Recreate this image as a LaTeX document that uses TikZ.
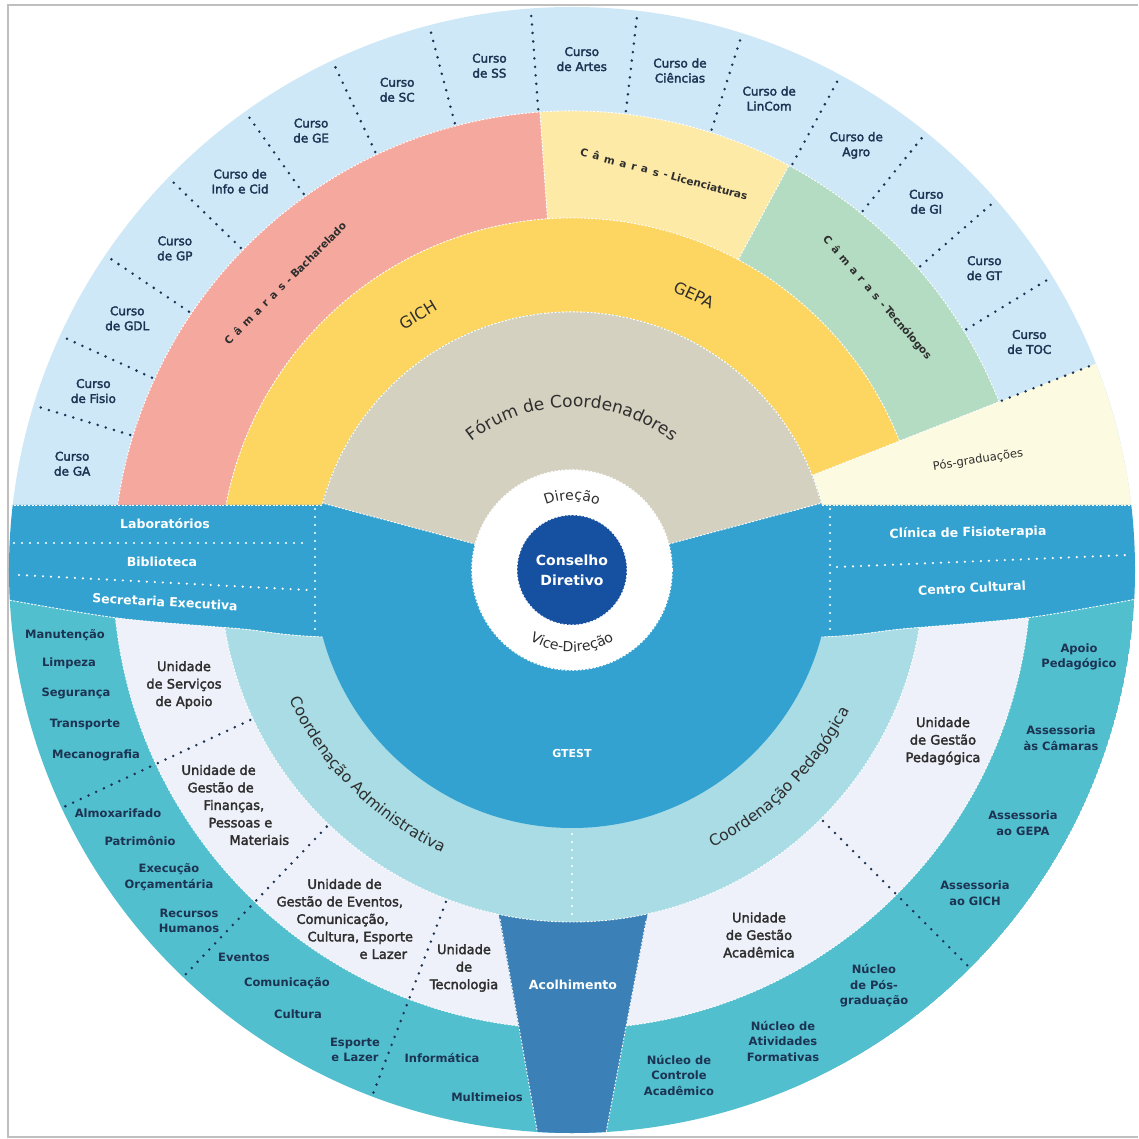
\documentclass[tikz,border=0pt]{standalone}
\usepackage{fontspec}
\setmainfont{DejaVu Sans}
\newfontfamily\semibf{DejaVu Sans}[FakeBold=2.5]
\usetikzlibrary{decorations.text}

\definecolor{cursocol}{HTML}{CFE8F8}
\definecolor{bachcol}{HTML}{F5A89E}
\definecolor{liccol}{HTML}{FDEAA6}
\definecolor{teccol}{HTML}{B4DCC2}
\definecolor{gepacol}{HTML}{FDD561}
\definecolor{forumcol}{HTML}{D5D1C0}
\definecolor{poscol}{HTML}{FCFAE0}
\definecolor{gtestcol}{HTML}{33A2D1}
\definecolor{conscol}{HTML}{1650A0}
\definecolor{coordcol}{HTML}{A9DCE5}
\definecolor{unicol}{HTML}{EFF1FA}
\definecolor{tealcol}{HTML}{52BFCF}
\definecolor{acolcol}{HTML}{3B80B6}
\definecolor{navytxt}{HTML}{1C3352}
\definecolor{graytxt}{HTML}{2E2E2E}

% annular sector: colour, start angle, end angle, inner radius, outer radius
\newcommand{\annsec}[5]{
    \fill[#1] (#2:#4) arc[start angle=#2, end angle=#3, radius=#4]
        -- (#3:#5) arc[start angle=#3, end angle=#2, radius=#5] -- cycle;
}
\newcommand{\camword}{C\hspace{5pt}â\hspace{5pt}m\hspace{5pt}a\hspace{5pt}r\hspace{5pt}a\hspace{5pt}s\hspace{5pt}-\hspace{3pt}}
\newcommand{\forumfont}{\fontsize{17}{20}\selectfont\color{graytxt}}
\newcommand{\coordfont}{\fontsize{15.5}{18}\selectfont\color{graytxt}}
\newcommand{\direcfont}{\fontsize{14}{16}\selectfont\color{graytxt}}

\begin{document}
\begin{tikzpicture}[x=1pt, y=1pt,
    ringsep/.style={white, line width=0.9pt, dash pattern=on 2pt off 1.6pt},
    navydots/.style={navytxt, line width=2.8pt, line cap=round, dash pattern=on 0pt off 8.5pt},
    whitedots/.style={white, line width=2.4pt, line cap=round, dash pattern=on 0pt off 8pt},
    curso/.style={font=\semibf\fontsize{12}{15}\selectfont, text=navytxt, align=center},
    unid/.style={font=\semibf\fontsize{13}{17.5}\selectfont, text=graytxt, align=center},
    subtxt/.style={font=\bfseries\fontsize{11.5}{15.5}\selectfont, text=navytxt, align=center},
    bandtxt/.style={font=\bfseries\fontsize{12.5}{15}\selectfont, text=white},
    camara/.style={font=\bfseries\fontsize{10.5}{12}\selectfont, text=graytxt},
    bigtxt/.style={font=\fontsize{16}{19}\selectfont, text=graytxt},
    curvedtxt/.style={decorate, decoration={text along path, text align=center, text={#1}}},
]
    \useasboundingbox (-572,-569) rectangle (566,570);
    \draw[black!25, line width=1.2pt] (566,565) -- (-564,565) -- (-564,-567) -- (566,-567);

    % upper half: cursos, camaras, GICH/GEPA, pos-graduacoes
    \begin{scope}
        \clip (-570,65) rectangle (570,570);
        \fill[cursocol] (0,0) circle[radius=563];
        \annsec{bachcol}{94}{180}{352}{459}
        \annsec{liccol}{61.8}{94}{352}{459}
        \annsec{teccol}{21.5}{61.8}{352}{459}
        \annsec{gepacol}{21.5}{180}{258}{352}
        \annsec{poscol}{0}{21.5}{258}{563}
        \draw[ringsep] (21.5:258) arc[start angle=21.5, end angle=180, radius=258];
        \draw[ringsep] (21.5:352) arc[start angle=21.5, end angle=180, radius=352];
        \draw[ringsep] (21.5:459) arc[start angle=21.5, end angle=180, radius=459];
        \draw[ringsep] (21.5:258) -- (21.5:459);
        \draw[ringsep] (94:352) -- (94:459);
        \draw[ringsep] (61.8:352) -- (61.8:459);
        \foreach \a in {21.5,31.4,41.1,51,61.5,72.4,83.3,94.2,104.7,115.2,125.5,135.8,146,155.4,163}
            \draw[navydots] (\a:462) -- (\a:561);
    \end{scope}

    % band
    \begin{scope}
        \clip (0,0) circle[radius=563];
        \fill[gtestcol] (-580,65) -- (580,65) -- (580,-26) -- plot[smooth] coordinates {(580,-26) (461,-47) (330,-59) (250,-67) (0,-74) (-250,-67) (-330,-59) (-455,-48) (-580,-27)} -- cycle;
    \end{scope}

    % lower half: coordenacoes, unidades, nucleos
    \begin{scope}
        \clip (0,0) circle[radius=563];
        \clip (-580,-27) -- plot[smooth] coordinates {(-580,-27) (-455,-48) (-330,-59) (-250,-67) (0,-74) (250,-67) (330,-59) (461,-47) (580,-26)} -- (580,-580) -- (-580,-580) -- cycle;
        \fill[tealcol] (0,0) circle[radius=563];
        \fill[unicol] (0,0) circle[radius=459];
        \draw[ringsep] (0,0) circle[radius=459];
        \fill[acolcol] (-76,-329) -- (78,-331) -- (27,-600) -- (-28,-600) -- cycle;
        \fill[coordcol] (0,0) circle[radius=352];
        \draw[ringsep] (0,0) circle[radius=352];
        \draw[ringsep] (-72,-349) -- (-28,-600);
        \draw[ringsep] (74,-351) -- (27,-600);
        \foreach \a in {205,226.3,249.2,315}
            \draw[navydots] (\a:355) -- (\a:561);
        \draw[whitedots] (0,-264) -- (0,-346);
    \end{scope}

    \begin{scope}
        \clip (0,0) circle[radius=563];
        \draw[ringsep] (-580,65) -- (-250,65);
        \draw[ringsep] (250,65) -- (580,65);
        \draw[ringsep] plot[smooth] coordinates {(-580,-27) (-455,-48) (-330,-59) (-250,-67) (0,-74) (250,-67) (330,-59) (461,-47) (580,-26)};
    \end{scope}

    % GTEST, forum, direcao
    \fill[gtestcol] (0,0) circle[radius=258];
    \annsec{forumcol}{15}{165}{99}{258}
    \draw[ringsep] (15:100) -- (15:258) arc[start angle=15, end angle=165, radius=258] -- (165:100);
    \draw[whitedots] (-257,61) -- (-257,-62);
    \draw[whitedots] (258,61) -- (258,-62);
    \draw[whitedots] (-558,27) -- (-264,27);
    \draw[whitedots] (-553,-5) -- (-264,-20);
    \draw[whitedots] (265,3) -- (556,15);
    \fill[white] (0,0) circle[radius=100];
    \draw[ringsep, line width=1.6pt] (0,0) circle[radius=100];
    \fill[conscol] (0,0) circle[radius=55];
    \draw[ringsep] (0,0) circle[radius=55];

    % cursos
    \foreach \a/\t [count=\i] in {168/{Curso\\de GA}, 159.5/{Curso\\de Fisio}, 150.5/{Curso\\de GDL},
        141/{Curso\\de GP}, 130.5/{Curso de\\Info e Cid}, 120.7/{Curso\\de GE}, 110/{Curso\\de SC},
        99.3/{Curso\\de SS}, 88.9/{Curso\\de Artes}, 77.8/{Curso de\\Ciências}, 67.3/{Curso de\\LinCom},
        56.2/{Curso de\\Agro}, 46.1/{Curso\\de GI}, 36.2/{Curso\\de GT}, 26.5/{Curso\\de TOC}}
        \node[curso] (curso\i) at (\a:511) {\t};

    \node[camara, rotate=45] (bach) at (-287,287) {\camword Bacharelado};
    \node[camara, rotate=-15] (lic) at (92,396) {\camword Licenciaturas};
    \node[camara, rotate=-49] (tec) at (305,272) {\camword Tecnólogos};
    \node[bigtxt, rotate=31] (gich) at (-154,255) {GICH};
    \node[bigtxt, rotate=-25] (gepa) at (122,275) {GEPA};
    \node[font=\fontsize{11.5}{14}\selectfont, text=graytxt, rotate=9] (pos) at (406,110) {Pós-graduações};
    \path[curvedtxt={|\forumfont|Fórum de Coordenadores}]
        (132:163) arc[start angle=132, end angle=48, radius=163];

    % band labels
    \node[bandtxt] (lab) at (-407,46) {Laboratórios};
    \node[bandtxt] (bib) at (-410,8) {Biblioteca};
    \node[bandtxt, rotate=-3] (secr) at (-407,-32) {Secretaria Executiva};
    \node[bandtxt, rotate=1] (clin) at (396,37) {Clínica de Fisioterapia};
    \node[bandtxt, rotate=3] (cult) at (400,-18) {Centro Cultural};

    % centre
    \node[font=\bfseries\fontsize{14}{20}\selectfont, text=white, align=center] (cons) at (0,0) {Conselho\\Diretivo};
    \path[curvedtxt={|\direcfont|Direção}]
        (125:70) arc[start angle=125, end angle=55, radius=70];
    \path[curvedtxt={|\direcfont|Vice-Direção}]
        (215:82) arc[start angle=215, end angle=325, radius=82];
    \node[font=\bfseries\fontsize{11}{13}\selectfont, text=white] (gtest) at (0,-183) {GTEST};
    \node[font=\bfseries\fontsize{12.5}{15}\selectfont, text=white] (acol) at (1,-415) {Acolhimento};

    \path[curvedtxt={|\coordfont|Coordenação Administrativa}]
        (195:311) arc[start angle=195, end angle=255, radius=311];
    \path[curvedtxt={|\coordfont|Coordenação Pedagógica}]
        (285:311) arc[start angle=285, end angle=345, radius=311];

    % unidades
    \node[unid] (usa) at (-388,-115) {Unidade\\de Serviços\\de Apoio};
    \node[unid, align=left, anchor=west] (ugf) at (-394,-235) {Unidade de\\\hspace*{6pt}Gestão de\\\hspace*{22pt}Finanças,\\\hspace*{27pt}Pessoas e\\\hspace*{48pt}Materiais};
    \node[unid, align=left, anchor=west] (uge) at (-299,-349) {\hspace*{31pt}Unidade de\\Gestão de Eventos,\\\hspace*{20pt}Comunicação,\\\hspace*{31pt}Cultura, Esporte\\\hspace*{83pt}e Lazer};
    \node[unid] (utec) at (-108,-398) {Unidade\\de\\Tecnologia};
    \node[unid] (ugp) at (371,-171) {Unidade\\de Gestão\\Pedagógica};
    \node[unid] (uga) at (187,-365) {Unidade\\de Gestão\\Acadêmica};

    % outer ring, left
    \node[subtxt] (manut) at (-507,-65) {Manutenção};
    \node[subtxt] (limp) at (-503,-93) {Limpeza};
    \node[subtxt] (seg) at (-496,-123) {Segurança};
    \node[subtxt] (transp) at (-487,-155) {Transporte};
    \node[subtxt] (mecan) at (-476,-185) {Mecanografia};
    \node[subtxt] (almox) at (-454,-243) {Almoxarifado};
    \node[subtxt] (patr) at (-432,-271) {Patrimônio};
    \node[subtxt] (exec) at (-403,-307) {Execução\\Orçamentária};
    \node[subtxt] (rh) at (-383,-351) {Recursos\\Humanos};
    \node[subtxt] (event) at (-328,-387) {Eventos};
    \node[subtxt] (comun) at (-285,-413) {Comunicação};
    \node[subtxt] (cultu) at (-274,-444) {Cultura};
    \node[subtxt] (esp) at (-217,-480) {Esporte\\e Lazer};
    \node[subtxt] (info) at (-130,-488) {Informática};
    \node[subtxt] (multi) at (-85,-527) {Multimeios};

    % outer ring, right
    \node[subtxt] (apoio) at (507,-87) {Apoio\\Pedagógico};
    \node[subtxt] (asscam) at (489,-168) {Assessoria\\às Câmaras};
    \node[subtxt] (assgepa) at (451,-253) {Assessoria\\ao GEPA};
    \node[subtxt] (assgich) at (403,-323) {Assessoria\\ao GICH};
    \node[subtxt] (npos) at (302,-416) {Núcleo\\de Pós-\\graduação};
    \node[subtxt] (naf) at (211,-471) {Núcleo de\\Atividades\\Formativas};
    \node[subtxt] (nca) at (107,-505) {Núcleo de\\Controle\\Acadêmico};
\end{tikzpicture}
\end{document}
